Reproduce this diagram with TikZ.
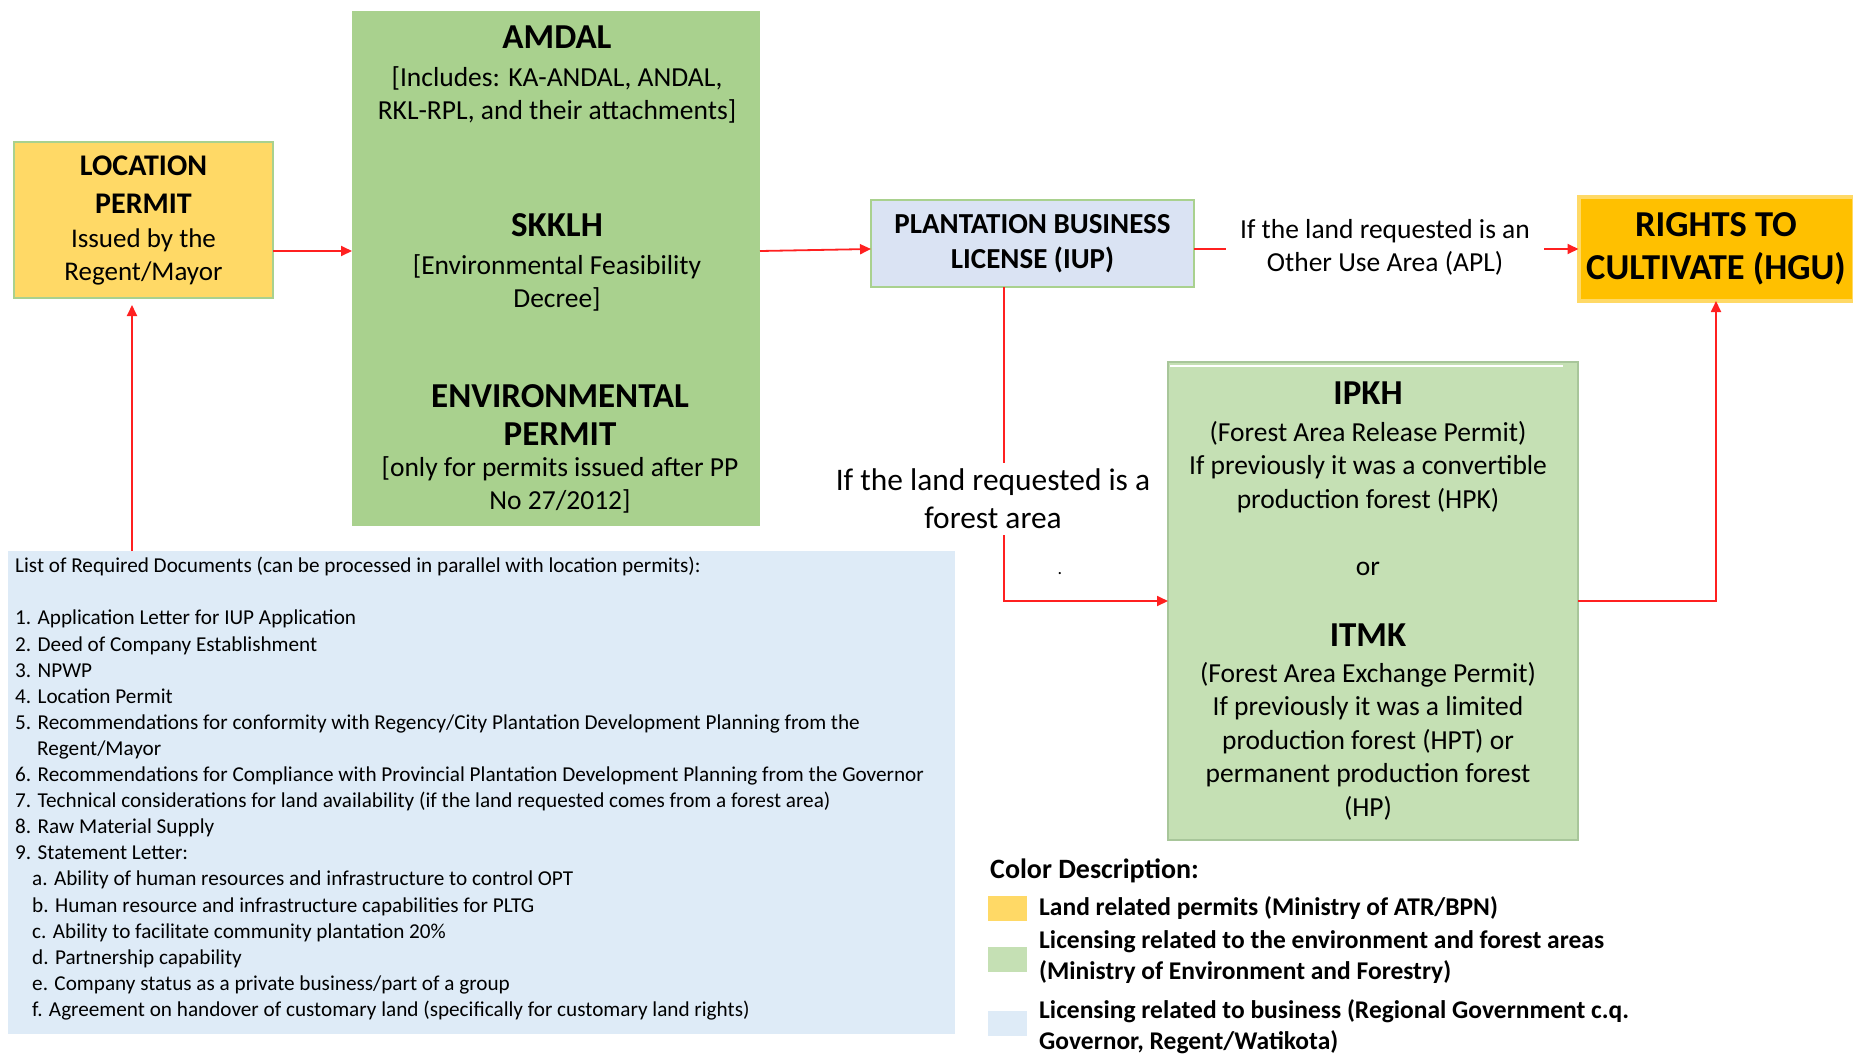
\documentclass[tikz,border=0pt]{standalone}
\usepackage{fontspec}
\setmainfont{Carlito}
\usetikzlibrary{arrows.meta,calc}
\definecolor{landY}{HTML}{FFD966}
\definecolor{envG}{HTML}{A9D18E}
\definecolor{forG}{HTML}{C5E0B4}
\definecolor{bizB}{HTML}{DAE3F3}
\definecolor{listB}{HTML}{DEEBF7}
\definecolor{hguY}{HTML}{FFC000}
\definecolor{edgeG}{HTML}{A9D18E}
\definecolor{arrR}{HTML}{FF2020}
\begin{document}
\begin{tikzpicture}[x=1pt,y=-1pt,
  box/.style={rectangle, inner sep=0pt, outer sep=0pt},
  body/.style={font=\fontsize{27.5}{33}\selectfont, align=center, inner sep=0pt},
  redline/.style={draw=arrR, line width=1.8pt},
  redarrow/.style={draw=arrR, line width=1.8pt, -{Triangle[length=11pt,width=10pt]}},
  legtext/.style={font=\fontsize{25.5}{31}\selectfont\bfseries, align=left, inner sep=0pt, anchor=west},
  swatch/.style={box, minimum width=39pt, minimum height=25pt}
]
\useasboundingbox (0,0) rectangle (1853,1053);
\fill[white] (0,0) rectangle (1853,1053);

% boxes
\node[box, fill=landY, draw=edgeG, line width=1.5pt, minimum width=259pt, minimum height=156pt,
      font=\fontsize{27}{33}\selectfont, align=center] (loc) at (143.5,220)
  {{\fontsize{30}{33}\selectfont\bfseries LOCATION}\\[5pt]{\fontsize{30}{33}\selectfont\bfseries PERMIT}\\[1pt]Issued by the\\Regent/Mayor};

\node[box, fill=envG, minimum width=408pt, minimum height=515pt] (green) at (556,268.5) {};
\node[body] (amdal) at (557,75)
  {{\fontsize{35}{33}\selectfont\bfseries AMDAL}\\[5pt][Includes: KA-ANDAL, ANDAL,\\RKL-RPL, and their attachments]};
\node[body] (skklh) at (557,262)
  {{\fontsize{35}{33}\selectfont\bfseries SKKLH}\\[5pt][Environmental Feasibility\\Decree]};
\node[body] (envp) at (560,449)
  {{\fontsize{35}{33}\selectfont\bfseries ENVIRONMENTAL}\\[5pt]{\fontsize{35}{33}\selectfont\bfseries PERMIT}\\[-2pt][only for permits issued after PP\\No 27/2012]};

\node[box, fill=bizB, draw=edgeG, line width=1.5pt, minimum width=323pt, minimum height=87pt,
      font=\fontsize{29}{35}\selectfont\bfseries, align=center] (iup) at (1032.5,243.5)
  {PLANTATION BUSINESS\\LICENSE (IUP)};

\node[body, inner xsep=14pt] (apl) at (1385,247) {If the land requested is an\\Other Use Area (APL)};

\node[box, fill=hguY, draw=landY, line width=4pt, minimum width=275pt, minimum height=104pt,
      font=\fontsize{36.5}{43}\selectfont\bfseries, align=center] (hgu) at (1716,249)
  {RIGHTS TO\\CULTIVATE (HGU)};

\node[body, font=\fontsize{31.4}{38}\selectfont, inner ysep=6pt] (forest) at (993,499)
  {If the land requested is a\\forest area};
\node[inner sep=0pt, font=\fontsize{18}{20}\selectfont] (dot) at (1060,574) {.};

\node[box, fill=forG, draw=forG!85!green!60!black!30!forG, line width=1.5pt, minimum width=410pt, minimum height=478pt] (ipkh) at (1373,601) {};
\draw[white, line width=1.5pt] (1170,366) -- (1563,366);
\node[body, font=\fontsize{27.5}{33.5}\selectfont] (ipkht) at (1368,601)
  {{\fontsize{35}{33}\selectfont\bfseries IPKH}\\[3.5pt](Forest Area Release Permit)\\If previously it was a convertible\\production forest (HPK)\\[33.5pt]or\\[37.5pt]{\fontsize{35}{33}\selectfont\bfseries ITMK}\\[2.5pt](Forest Area Exchange Permit)\\If previously it was a limited\\production forest (HPT) or\\permanent production forest\\(HP)};

\node[box, fill=listB, minimum width=947pt, minimum height=483pt] (list) at (481.5,792.5) {};
\node[inner sep=0pt, anchor=north west, align=left, font=\fontsize{21.2}{26.1}\selectfont] (listt) at (15,557)
  {List of Required Documents (can be processed in parallel with location permits):\\
   \mbox{}\\
   1. Application Letter for IUP Application\\
   2. Deed of Company Establishment\\
   3. NPWP\\
   4. Location Permit\\
   5. Recommendations for conformity with Regency/City Plantation Development Planning from the\\
   \hspace*{22pt}Regent/Mayor\\
   6. Recommendations for Compliance with Provincial Plantation Development Planning from the Governor\\
   7. Technical considerations for land availability (if the land requested comes from a forest area)\\
   8. Raw Material Supply\\
   9. Statement Letter:\\
   \hspace*{17pt}a. Ability of human resources and infrastructure to control OPT\\
   \hspace*{17pt}b. Human resource and infrastructure capabilities for PLTG\\
   \hspace*{17pt}c. Ability to facilitate community plantation 20\%\\
   \hspace*{17pt}d. Partnership capability\\
   \hspace*{17pt}e. Company status as a private business/part of a group\\
   \hspace*{17pt}f. Agreement on handover of customary land (specifically for customary land rights)};

% legend
\node[legtext, font=\fontsize{28}{31}\selectfont\bfseries] (legtitle) at (990,871) {Color Description:};
\node[swatch, fill=landY] (swY) at (1007,908) {};
\node[swatch, fill=forG] (swG) at (1007,959) {};
\node[swatch, fill=listB] (swB) at (1007,1023.5) {};
\node[legtext] (legY) at (1039,908) {Land related permits (Ministry of ATR/BPN)};
\node[legtext] (legG) at (1039,957.5) {Licensing related to the environment and forest areas\\(Ministry of Environment and Forestry)};
\node[legtext] (legB) at (1039,1027) {Licensing related to business (Regional Government c.q.\\Governor, Regent/Watikota)};

% connectors
\coordinate (ya) at (0,251);
\coordinate (yb) at (0,249);
\coordinate (xf) at (1004,0);
\coordinate (xl) at (132,0);
\draw[redarrow] (loc.east |- ya) -- (green.west |- ya);
\draw[redarrow] (green.east |- ya) -- (iup.west |- yb);
\draw[redline] (iup.east |- yb) -- (apl.west |- yb);
\draw[redarrow] (apl.east |- yb) -- (hgu.west |- yb);
\draw[redline] (xf |- iup.south) -- (xf |- forest.north);
\draw[redarrow] (xf |- forest.south) |- (ipkh.west);
\draw[redarrow] (ipkh.east) -| (hgu.south);
\draw[redarrow] (xl |- list.north) -- ($(xl |- loc.south)+(0,7)$);
\end{tikzpicture}
\end{document}
